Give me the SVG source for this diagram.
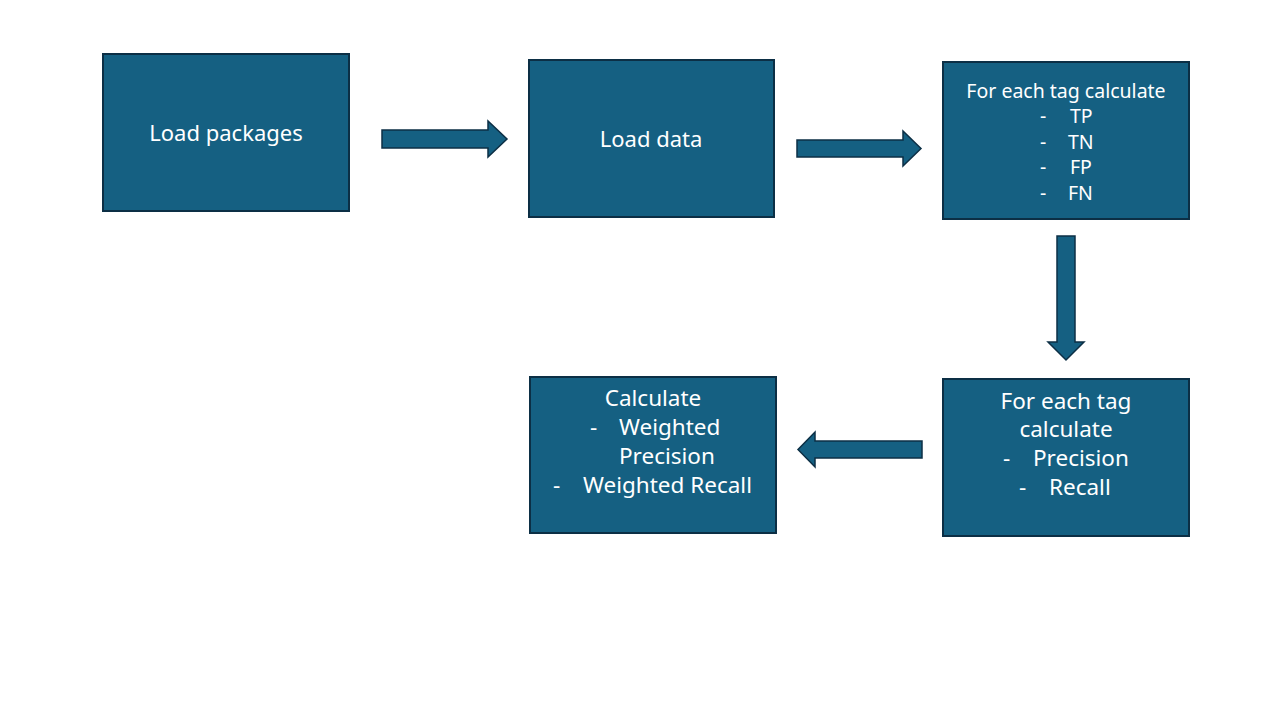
<svg xmlns="http://www.w3.org/2000/svg" width="1280" height="720" viewBox="0 0 1280 720">
<style>
.box{fill:#156082;stroke:#0C2F45;stroke-width:2}
.arr{fill:#156082;stroke:#0C2F45;stroke-width:1.5;stroke-linejoin:miter}
text{font-family:"Noto Sans","Open Sans",sans-serif;fill:#ffffff;dominant-baseline:central}
.m{text-anchor:middle}
.f20{font-size:22px}
.f18{font-size:19.5px}
.f21{font-size:22.5px}
</style>
<rect width="1280" height="720" fill="#ffffff"/>
<g id="connectors">
<polygon class="arr" points="382,130 488,130 488,121 507,139 488,157 488,148 382,148"/>
<polygon class="arr" points="797,140 903,140 903,131 921,148.5 903,166 903,157 797,157"/>
<polygon class="arr" points="1057,236 1075,236 1075,342 1084,342 1066,360 1048,342 1057,342"/>
<polygon class="arr" points="922,441 815,441 815,432 798,449.5 815,467 815,458 922,458"/>
</g>
<g id="n1">
<rect class="box" x="103" y="54" width="246" height="157"/>
<text class="m f20" x="226" y="132">Load packages</text>
</g>
<g id="n2">
<rect class="box" x="529" y="60" width="245" height="157"/>
<text class="m f20" x="651" y="138">Load data</text>
</g>
<g id="n3">
<rect class="box" x="943" y="62" width="246" height="157"/>
<text class="m f18" x="1066" y="90">For each tag calculate</text>
<text class="f18" x="1040" y="115">-</text><text class="f18" x="1070" y="115">TP</text>
<text class="f18" x="1040" y="141">-</text><text class="f18" x="1068" y="141">TN</text>
<text class="f18" x="1040" y="166">-</text><text class="f18" x="1070" y="166">FP</text>
<text class="f18" x="1040" y="192">-</text><text class="f18" x="1068" y="192">FN</text>
</g>
<g id="n4">
<rect class="box" x="943" y="379" width="246" height="157"/>
<text class="m f21" x="1066" y="400">For each tag</text>
<text class="m f21" x="1066" y="428">calculate</text>
<text class="f21" x="1003" y="457">-</text><text class="f21" x="1033" y="457">Precision</text>
<text class="f21" x="1019" y="486">-</text><text class="f21" x="1049" y="486">Recall</text>
</g>
<g id="n5">
<rect class="box" x="530" y="377" width="246" height="156"/>
<text class="m f21" x="653" y="397">Calculate</text>
<text class="f21" x="590" y="426">-</text><text class="f21" x="619" y="426">Weighted</text>
<text class="f21" x="619" y="455">Precision</text>
<text class="f21" x="553" y="484">-</text><text class="f21" x="583" y="484">Weighted Recall</text>
</g>
</svg>
